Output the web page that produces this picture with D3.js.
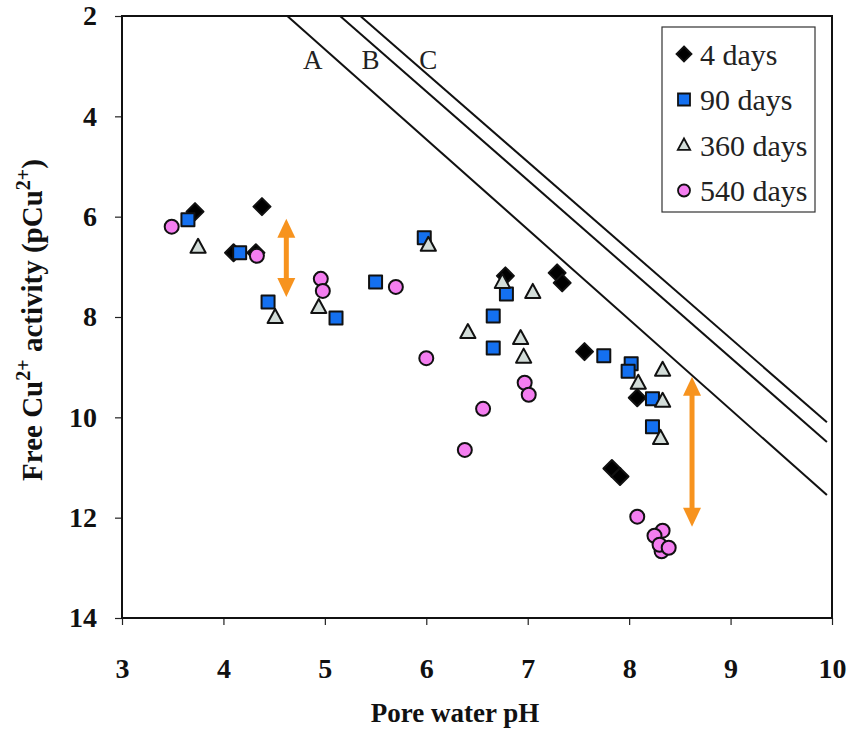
<!DOCTYPE html>
<html>
<head>
<meta charset="utf-8">
<script src="https://cdn.jsdelivr.net/npm/d3@7"></script>
<style>
  body { margin: 0; background: #fff; }
  svg { display: block; }
</style>
</head>
<body>
<div id="chart"></div>
<script>
// ---- data (pH, pCu2+)
const days4 = [[3.72,5.9],[4.38,5.8],[4.1,6.72],[4.32,6.72],[6.78,7.18],[7.29,7.12],[7.34,7.32],[7.56,8.69],[8.08,9.61],[7.83,11.02],[7.91,11.18]]
const days90 = [[3.65,6.06],[4.16,6.72],[4.44,7.7],[5.11,8.02],[5.5,7.3],[5.98,6.42],[6.79,7.54],[6.66,7.98],[6.66,8.62],[7.75,8.77],[8.02,8.93],[7.99,9.08],[8.23,9.63],[8.23,10.19]]
const days360 = [[3.75,6.6],[4.51,8.0],[4.94,7.8],[6.02,6.56],[6.75,7.3],[7.05,7.5],[6.41,8.3],[6.93,8.42],[6.96,8.79],[8.09,9.31],[8.33,9.05],[8.33,9.67],[8.31,10.41]]
const days540 = [[3.49,6.2],[4.33,6.78],[4.96,7.24],[4.98,7.48],[5.7,7.4],[6.0,8.82],[6.56,9.83],[6.38,10.65],[6.97,9.31],[7.01,9.55],[8.08,11.98],[8.32,12.67],[8.33,12.26],[8.25,12.36],[8.3,12.54],[8.39,12.6]]

const seriesNames = ["4 days","90 days","360 days","540 days"]
// solubility lines A, B, C : [startPH, startPCu, endPH, endPCu]
const lineNames = ["A","B","C"]
const lineEnds = [[4.63,2,9.95,11.55],[5.15,2,9.95,10.49],[5.35,2,9.95,10.1]]
const lineLabelPH = [4.88,5.45,6.02]
const lineLabelPCu = 3.05
// orange double arrows: [pH, top pCu, bottom pCu]
const arrows = [[4.62,6.04,7.6],[8.62,9.19,12.18]]

const xTicks = [3,4,5,6,7,8,9,10]
const yTicks = [2,4,6,8,10,12,14]

const serif = "'Liberation Serif', 'Times New Roman', Tinos, Times, serif"

//---------- dimensions
const dims = {
    width: 851,
    height: 739,
    margin: {top: 16, right: 19, bottom: 121, left: 122}
}
dims.boundedWidth = dims.width - dims.margin.left - dims.margin.right
dims.boundedHeight = dims.height - dims.margin.top - dims.margin.bottom

const svg = d3.select("#chart").append("svg")
    .attr("width", dims.width)
    .attr("height", dims.height)
    .attr("font-family", serif)

const bounds = svg.append("g")
    .attr("transform", `translate(${dims.margin.left},${dims.margin.top})`)

//---------- scales
const xScale = d3.scaleLinear().domain([3,10]).range([0, dims.boundedWidth])
const yScale = d3.scaleLinear().domain([2,14]).range([0, dims.boundedHeight])

//---------- axes
const xAxis = bounds.append("g")
    .attr("transform", `translate(0,${dims.boundedHeight})`)
    .call(d3.axisBottom(xScale).tickValues(xTicks).tickSize(7).tickPadding(10).tickFormat(d3.format("d")))
const yAxis = bounds.append("g")
    .call(d3.axisLeft(yScale).tickValues(yTicks).tickSize(7).tickPadding(18).tickFormat(d3.format("d")))

bounds.selectAll(".domain").remove()
bounds.selectAll(".tick line").attr("stroke", "#222").attr("stroke-width", 1.2)
xAxis.attr("font-family", serif).attr("font-size", 28).attr("font-weight", "bold")
yAxis.attr("font-family", serif).attr("font-size", 28).attr("font-weight", "bold")
bounds.selectAll(".tick text").attr("fill", "#111")
xAxis.selectAll(".tick text").attr("y", 50).attr("dy", "0.35em")

// plot frame
bounds.append("rect")
    .attr("width", dims.boundedWidth)
    .attr("height", dims.boundedHeight)
    .attr("fill", "none")
    .attr("stroke", "#111")
    .attr("stroke-width", 2)

//---------- solubility lines
const linesGroup = bounds.append("g")
linesGroup.selectAll("line")
    .data(lineEnds)
    .join("line")
    .attr("x1", d => xScale(d[0]))
    .attr("y1", d => yScale(d[1]))
    .attr("x2", d => xScale(d[2]))
    .attr("y2", d => yScale(d[3]))
    .attr("stroke", "#111")
    .attr("stroke-width", 2)

linesGroup.selectAll("text")
    .data(lineNames)
    .join("text")
    .attr("x", (d,i) => xScale(lineLabelPH[i]))
    .attr("y", yScale(lineLabelPCu))
    .attr("text-anchor", "middle")
    .attr("font-size", 27)
    .attr("fill", "#222")
    .text(d => d)

//---------- arrows
const orange = "#f7931e"
const arrowGroup = bounds.append("g")
arrows.forEach(a => {
    const x = xScale(a[0]), y0 = yScale(a[1]), y1 = yScale(a[2])
    arrowGroup.append("line")
        .attr("x1", x).attr("x2", x)
        .attr("y1", y0 + 16).attr("y2", y1 - 16)
        .attr("stroke", orange).attr("stroke-width", 5)
    arrowGroup.append("path")
        .attr("d", `M${x},${y0} L${x-9},${y0+19} L${x+9},${y0+19} Z`)
        .attr("fill", orange)
    arrowGroup.append("path")
        .attr("d", `M${x},${y1} L${x-9},${y1-19} L${x+9},${y1-19} Z`)
        .attr("fill", orange)
})

//---------- markers
const styles = [
    {shape: "diamond", fill: "#000", size: 8.5},
    {shape: "square", fill: "#1470f0", size: 6.5},
    {shape: "triangle", fill: "#d3ddd9", size: 8},
    {shape: "circle", fill: "#f47ef0", size: 7}
]
function shapePath(shape, s) {
    if (shape === "diamond") return `M0,${-s}L${s},0L0,${s}L${-s},0Z`
    if (shape === "square") return `M${-s},${-s}H${s}V${s}H${-s}Z`
    if (shape === "triangle") return `M0,${-s}L${s*0.95},${s*0.75}H${-s*0.95}Z`
    return d3.symbol(d3.symbolCircle, Math.PI * s * s)()
}
const allSeries = [days4, days90, days360, days540]
const pointsGroup = bounds.append("g")
allSeries.forEach((data, i) => {
    const st = styles[i]
    pointsGroup.append("g").selectAll("path")
        .data(data)
        .join("path")
        .attr("transform", d => `translate(${xScale(d[0])},${yScale(d[1])})`)
        .attr("d", shapePath(st.shape, st.size))
        .attr("fill", st.fill)
        .attr("stroke", "#111")
        .attr("stroke-width", 2)
        .attr("stroke-linejoin", "round")
})

//---------- legend
const legend = svg.append("g").attr("transform", "translate(662,27)")
legend.append("rect")
    .attr("width", 153).attr("height", 185)
    .attr("fill", "#fff").attr("stroke", "#333").attr("stroke-width", 1.2)
const legendSizes = [7.5, 6, 6.5, 6]
const items = legend.selectAll(".item")
    .data(seriesNames)
    .join("g")
    .attr("class", "item")
    .attr("transform", (d,i) => `translate(0,${27 + i*45.5})`)
items.append("path")
    .attr("transform", "translate(22,0)")
    .attr("d", (d,i) => shapePath(styles[i].shape, legendSizes[i]))
    .attr("fill", (d,i) => styles[i].fill)
    .attr("stroke", "#111")
    .attr("stroke-width", 1.8)
items.append("text")
    .attr("x", 38)
    .attr("y", 0)
    .attr("dy", "0.35em")
    .attr("font-size", 30)
    .attr("fill", "#222")
    .text(d => d)

//---------- axis titles
svg.append("text")
    .attr("x", 455)
    .attr("y", 722)
    .attr("text-anchor", "middle")
    .attr("font-size", 27)
    .attr("font-weight", "bold")
    .attr("fill", "#111")
    .text("Pore water pH")

const yTitle = svg.append("text")
    .attr("transform", "translate(42,320) rotate(-90)")
    .attr("text-anchor", "middle")
    .attr("font-size", 29)
    .attr("font-weight", "bold")
    .attr("fill", "#111")
yTitle.append("tspan").text("Free Cu")
yTitle.append("tspan").attr("dy", -12).attr("font-size", 20).text("2+")
yTitle.append("tspan").attr("dy", 12).text(" activity (pCu")
yTitle.append("tspan").attr("dy", -12).attr("font-size", 20).text("2+")
yTitle.append("tspan").attr("dy", 12).text(")")
</script>
</body>
</html>
